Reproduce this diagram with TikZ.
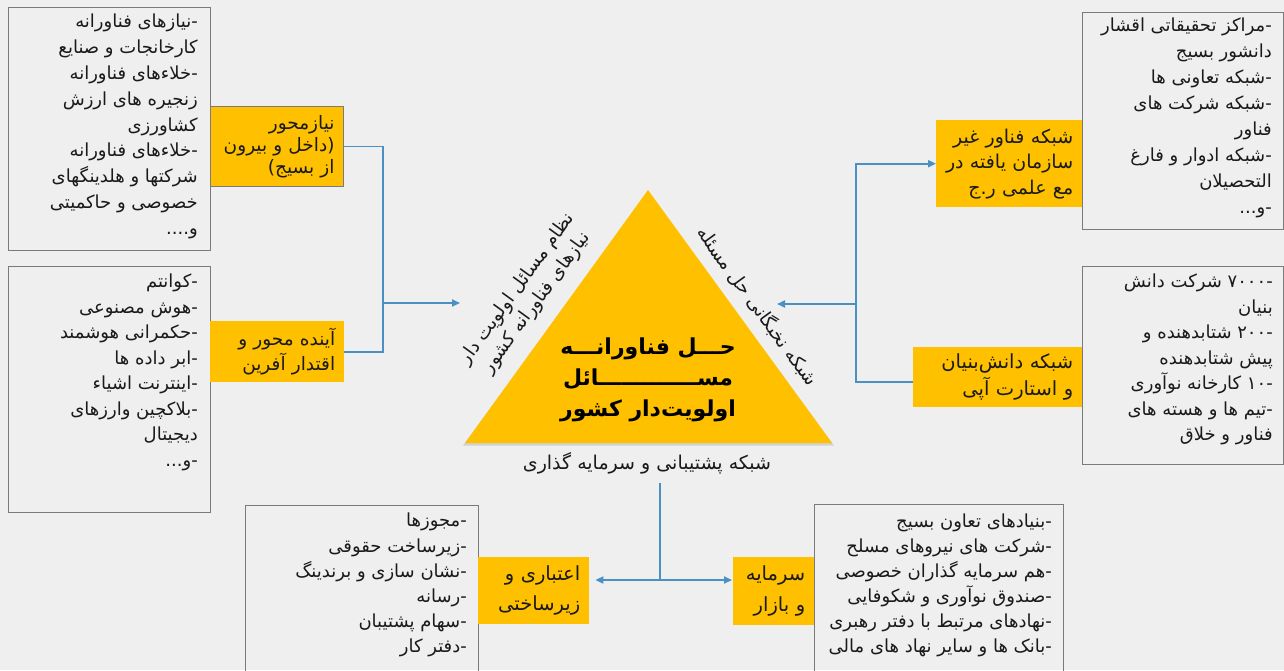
\documentclass[tikz,border=0pt]{standalone}
\usepackage{fontspec}
\usetikzlibrary{arrows.meta}
\newfontfamily\persianfont[Script=Arabic]{DejaVu Sans}
\TeXXeTstate=1
\newcommand{\rl}[1]{\mbox{\beginR #1\endR}}
\definecolor{Cgold}{HTML}{FFC000}
\definecolor{Cflow}{HTML}{4A90C2}
\definecolor{Cpaper}{HTML}{EFEFEF}
\definecolor{Cframe}{HTML}{7A7A7A}
\definecolor{Cink}{HTML}{1A1A1A}

\begin{document}
\begin{tikzpicture}[x=1pt,y=-1pt,
	listbox/.style={draw=Cframe,line width=1.3pt,anchor=north west,inner sep=0pt},
	listtext/.style={anchor=north east,inner sep=0pt,align=right,text=Cink,
		font=\persianfont\fontsize{18}{25.5}\selectfont},
	topicbox/.style={fill=Cgold,anchor=north west,inner xsep=9pt,inner ysep=0pt,
		align=right,text=Cink,font=\persianfont\fontsize{18.5}{25}\selectfont},
	edgetext/.style={text=Cink,align=center,inner sep=0pt,
		font=\persianfont\fontsize{18.5}{24}\selectfont},
	flow/.style={draw=Cflow,line width=1.8pt,-{Triangle[length=8pt,width=7pt]}},
	]
	\useasboundingbox (0,0) rectangle (1284,670);
	\fill[Cpaper] (0,0) rectangle (1284,670);

	% central triangle
	\coordinate (apex) at (648,190);
	\coordinate (baseL) at (465,443);
	\coordinate (baseR) at (832,443);
	\fill[black,opacity=0.12] ([yshift=-2.5pt]apex) -- ([yshift=-2.5pt,xshift=-2pt]baseL) -- ([yshift=-2.5pt,xshift=2pt]baseR) -- cycle;
	\fill[Cgold] (apex) -- (baseL) -- (baseR) -- cycle;
	\node[text=black,align=center,inner sep=0pt,font=\persianfont\bfseries\fontsize{22}{31}\selectfont] (coretitle) at (648,380)
		{\rl{حـــل فناورانـــه}\\ \rl{مســـــــــــــائل}\\ \rl{اولویت‌دار کشور}};
	\node[edgetext,rotate=54] (needsedge) at (527,296)
		{\rl{نظام مسائل اولویت دار}\\ \rl{نیازهای فناورانه کشور}};
	\node[edgetext,rotate=-54] (eliteedge) at (758,306) {\rl{شبکه نخبگانی حل مسئله}};
	\node[edgetext,font=\persianfont\fontsize{19}{24}\selectfont] (supportedge) at (647,463) {\rl{شبکه پشتیبانی و سرمایه گذاری}};

	% left side
	\node[listbox,minimum width=202pt,minimum height=243pt] (needsbox) at (8,7) {};
	\node[listtext,font=\persianfont\fontsize{18}{25.8}\selectfont] (needslist) at (198,14)
		{\rl{-نیازهای فناورانه}\\ \rl{کارخانجات و صنایع}\\ \rl{-خلاءهای فناورانه}\\
		 \rl{زنجیره های ارزش}\\ \rl{کشاورزی}\\ \rl{-خلاءهای فناورانه}\\
		 \rl{شرکتها و هلدینگهای}\\ \rl{خصوصی و حاکمیتی}\\ \rl{و....}};
	\node[topicbox,draw=Cframe,line width=1pt,minimum width=133pt,minimum height=80pt,text width=115pt,
		font=\persianfont\fontsize{18.5}{22}\selectfont] (needsnode) at (210,106)
		{\rl{نیازمحور}\\ \rl{(داخل و بیرون}\\ \rl{از بسیج)}};

	\node[listbox,minimum width=202pt,minimum height=246pt] (futurebox) at (8,266) {};
	\node[listtext] (futurelist) at (198,274)
		{\rl{-کوانتم}\\ \rl{-هوش مصنوعی}\\ \rl{-حکمرانی هوشمند}\\ \rl{-ابر داده ها}\\
		 \rl{-اینترنت اشیاء}\\ \rl{-بلاکچین وارزهای}\\ \rl{دیجیتال}\\ \rl{-و...}};
	\node[topicbox,minimum width=134pt,minimum height=61pt,text width=116pt] (futurenode) at (210,321)
		{\rl{آینده محور و}\\ \rl{اقتدار آفرین}};

	\coordinate (leftjoin) at (383,303);
	\coordinate (lefttip) at (460,303);
	\draw[flow,-] (needsnode.east) -| (leftjoin) |- (futurenode.east);
	\draw[flow] (leftjoin) -- (lefttip);

	% right side
	\node[listbox,minimum width=201pt,minimum height=217pt] (informalbox) at (1082,12) {};
	\node[listtext,font=\persianfont\fontsize{18}{26}\selectfont] (informallist) at (1272,18)
		{\rl{-مراکز تحقیقاتی اقشار}\\ \rl{دانشور بسیج}\\ \rl{-شبکه تعاونی ها}\\
		 \rl{-شبکه شرکت های}\\ \rl{فناور}\\ \rl{-شبکه ادوار و فارغ}\\ \rl{التحصیلان}\\ \rl{-و...}};
	\node[topicbox,minimum width=146pt,minimum height=87pt,text width=128pt,
		font=\persianfont\fontsize{19}{25.5}\selectfont] (informalnode) at (936,120)
		{\rl{شبکه فناور غیر}\\ \rl{سازمان یافته در}\\ \rl{مع علمی ر.ج}};

	\node[listbox,minimum width=201pt,minimum height=198pt] (startupbox) at (1082,266) {};
	\node[listtext] (startuplist) at (1273,274)
		{\rl{-۷۰۰۰ شرکت دانش}\\ \rl{بنیان}\\ \rl{-۲۰۰ شتابدهنده و}\\ \rl{پیش شتابدهنده}\\
		 \rl{-۱۰ کارخانه نوآوری}\\ \rl{-تیم ها و هسته های}\\ \rl{فناور و خلاق}};
	\node[topicbox,minimum width=169pt,minimum height=60pt,text width=151pt,
		font=\persianfont\fontsize{19.5}{27}\selectfont] (startupnode) at (913,347)
		{\rl{شبکه دانش‌بنیان}\\ \rl{و استارت آپی}};

	\coordinate (rightjoin) at (856,304);
	\coordinate (righttip) at (777,304);
	\draw[flow] ([yshift=-5pt]startupnode.west) -| (rightjoin) |- (informalnode.west);
	\draw[flow] (rightjoin) -- (righttip);

	% bottom
	\node[listbox,minimum width=233pt,minimum height=170pt] (creditbox) at (245,505) {};
	\node[listtext,font=\persianfont\fontsize{18}{25.2}\selectfont] (creditlist) at (467,513)
		{\rl{-مجوزها}\\ \rl{-زیرساخت حقوقی}\\ \rl{-نشان سازی و برندینگ}\\
		 \rl{-رسانه}\\ \rl{-سهام پشتیبان}\\ \rl{-دفتر کار}};
	\node[topicbox,minimum width=111pt,minimum height=67pt,text width=93pt,
		font=\persianfont\fontsize{19.5}{30}\selectfont] (creditnode) at (478,557)
		{\rl{اعتباری و}\\ \rl{زیرساختی}};

	\node[listbox,minimum width=249pt,minimum height=170pt] (capitalbox) at (814,504) {};
	\node[listtext,font=\persianfont\fontsize{18}{25}\selectfont] (capitallist) at (1052,514)
		{\rl{-بنیادهای تعاون بسیج}\\ \rl{-شرکت های نیروهای مسلح}\\ \rl{-هم سرمایه گذاران خصوصی}\\
		 \rl{-صندوق نوآوری و شکوفایی}\\ \rl{-نهادهای مرتبط با دفتر رهبری}\\ \rl{-بانک ها و سایر نهاد های مالی}};
	\node[topicbox,minimum width=81pt,minimum height=68pt,text width=63pt,
		font=\persianfont\fontsize{19.5}{31}\selectfont] (capitalnode) at (733,557)
		{\rl{سرمایه}\\ \rl{و بازار}};

	\coordinate (bottomtop) at (660,483);
	\coordinate (bottomjoin) at (660,580);
	\draw[flow,-] (bottomtop) -- (bottomjoin);
	\draw[flow,{Triangle[length=8pt,width=7pt]}-{Triangle[length=8pt,width=7pt]},shorten <=6pt,shorten >=1pt]
		(creditnode.east |- bottomjoin) -- (capitalnode.west |- bottomjoin);
\end{tikzpicture}
\end{document}
